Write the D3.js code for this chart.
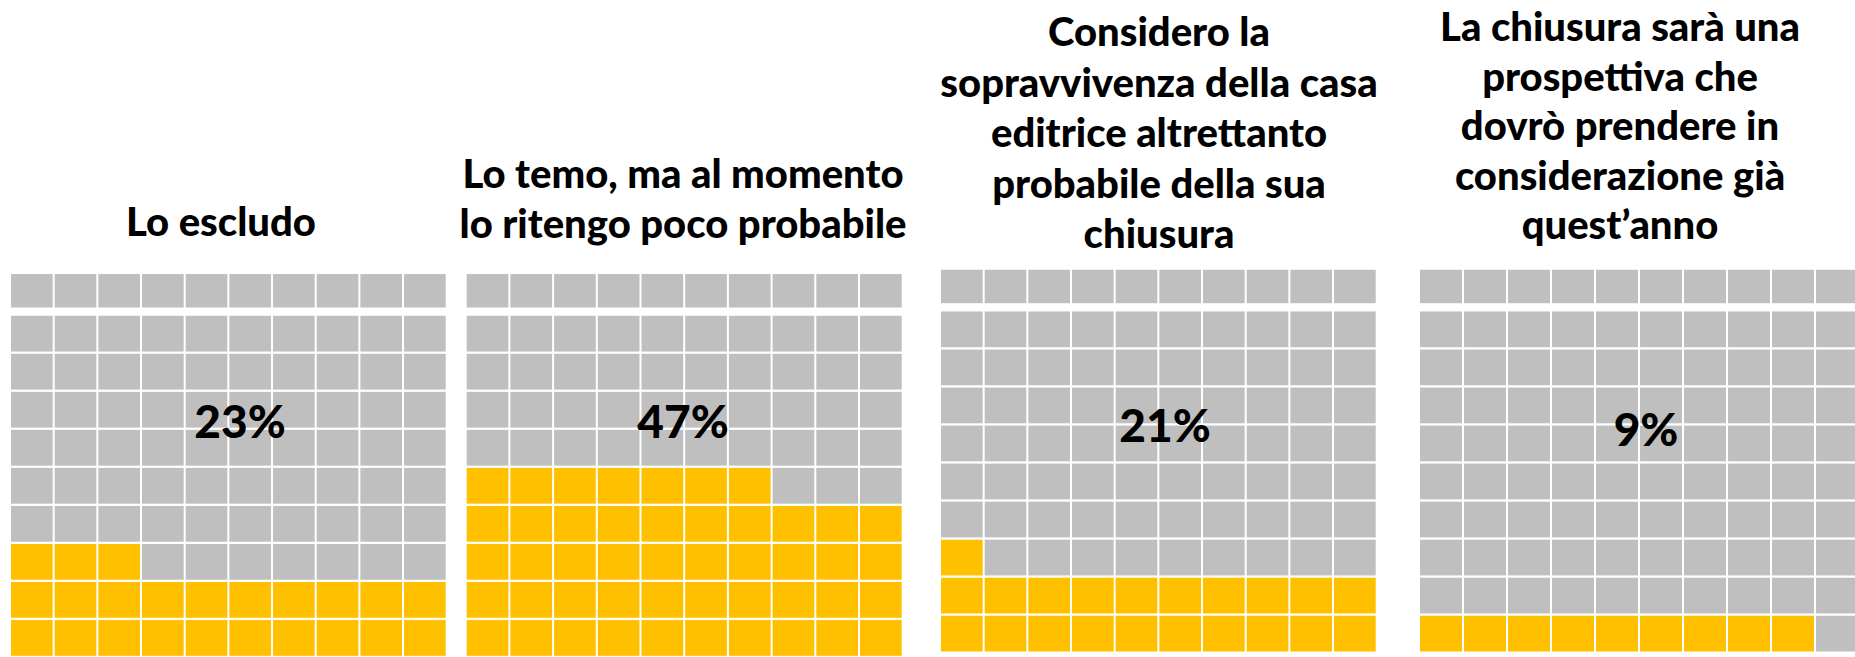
<!DOCTYPE html>
<html>
<head>
<meta charset="utf-8">
<script src="https://cdn.jsdelivr.net/npm/d3@7"></script>
<style>
  html, body { margin: 0; padding: 0; background: #ffffff; }
  svg { display: block; }
</style>
</head>
<body>
<svg id="chart" width="1855" height="657"></svg>
<script>
// ---------------- DATA ----------------
const categories = [
  "Lo escludo",
  "Lo temo, ma al momento lo ritengo poco probabile",
  "Considero la sopravvivenza della casa editrice altrettanto probabile della sua chiusura",
  "La chiusura sarà una prospettiva che dovrò prendere in considerazione già quest’anno"
];
const titleLines = [
  ["Lo escludo"],
  ["Lo temo, ma al momento", "lo ritengo poco probabile"],
  ["Considero la", "sopravvivenza della casa", "editrice altrettanto", "probabile della sua", "chiusura"],
  ["La chiusura sarà una", "prospettiva che", "dovrò prendere in", "considerazione già", "quest’anno"]
];
const values = [23, 47, 21, 9];          // percent of respondents
const valueLabels = ["23%", "47%", "21%", "9%"];
const gridCols = 10, gridRows = 10;

// ---------------- LAYOUT ----------------
const layout = {
  panelLeft:  [11, 466.7, 941, 1420],
  panelTop:   [274.3, 274.3, 270, 270],
  gridWidth:  [434.7, 435, 434.7, 438],
  gridHeight: 381.5,
  headerGap:  3.7,
  titleCenter: [221, 683, 1159, 1620],
  titleLastBaseline: [236, 238, 248, 239],
  titleLineHeight: [50.5, 50.5, 50.5, 49.5],
  labelCenterX: [240, 683, 1165, 1646],
  labelCenterY: [420, 420, 424, 428]
};
const colors = { empty: "#BFBFBF", filled: "#FFC000", text: "#000000" };
const fontFamily = "Lato, 'Open Sans', sans-serif";
const fontWeight = 900;

const svg = d3.select("#chart");

categories.forEach((cat, p) => {
  const g = svg.append("g")
    .attr("class", "panel")
    .attr("transform", `translate(${layout.panelLeft[p]},${layout.panelTop[p]})`);

  const x = d3.scaleBand()
    .domain(d3.range(gridCols))
    .range([0, layout.gridWidth[p]])
    .paddingInner(0.046);

  // rows 1..9 (top-down) share a band scale; row 0 sits above a slightly larger gap
  const yMain = d3.scaleBand()
    .domain(d3.range(1, gridRows))
    .range([layout.gridHeight - 9 * 37.78, layout.gridHeight])
    .paddingInner(0.06);
  const yRow = r => r === 0 ? yMain(1) - yMain.step() - layout.headerGap : yMain(r);
  const rowH = r => r === 0 ? yMain.bandwidth() - 2.3 : yMain.bandwidth();

  const cells = d3.range(gridCols * gridRows).map(i => ({
    i,
    col: i % gridCols,
    row: gridRows - 1 - Math.floor(i / gridCols),
    filled: i < values[p]
  }));

  g.selectAll("rect.cell")
    .data(cells)
    .join("rect")
    .attr("class", "cell")
    .attr("x", d => x(d.col))
    .attr("y", d => yRow(d.row))
    .attr("width", x.bandwidth())
    .attr("height", d => rowH(d.row))
    .attr("fill", d => d.filled ? colors.filled : colors.empty);

  // percentage label
  svg.append("text")
    .attr("x", layout.labelCenterX[p])
    .attr("y", layout.labelCenterY[p])
    .attr("text-anchor", "middle")
    .attr("dominant-baseline", "central")
    .attr("font-family", fontFamily)
    .attr("font-weight", fontWeight)
    .attr("font-size", 46)
    .attr("fill", colors.text)
    .text(valueLabels[p]);

  // title
  const lines = titleLines[p];
  const t = svg.append("text")
    .attr("text-anchor", "middle")
    .attr("font-family", fontFamily)
    .attr("font-weight", fontWeight)
    .attr("font-size", 40)
    .attr("fill", colors.text);
  lines.forEach((ln, k) => {
    t.append("tspan")
      .attr("x", layout.titleCenter[p])
      .attr("y", layout.titleLastBaseline[p] - (lines.length - 1 - k) * layout.titleLineHeight[p])
      .text(ln);
  });
});
</script>
</body>
</html>
